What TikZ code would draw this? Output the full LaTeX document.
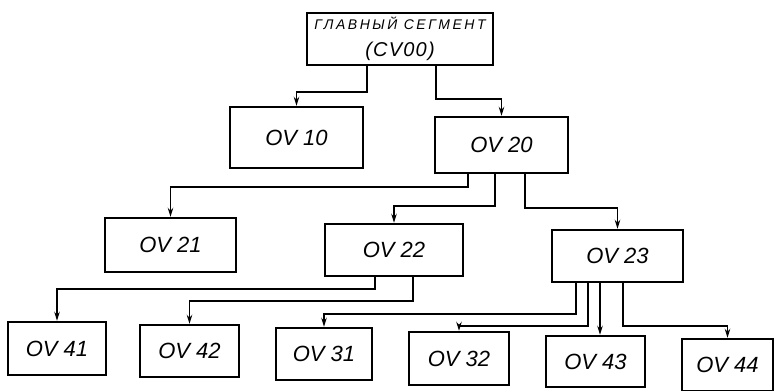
\documentclass[tikz,border=0pt]{standalone}
\usepackage{fontspec}
\setmainfont{Liberation Sans}
\newfontfamily\capsfont[LetterSpace=18]{Liberation Sans}
\newfontfamily\codefont[LetterSpace=6]{Liberation Sans}
\usetikzlibrary{arrows.meta}
\tikzset{
  seg/.style={draw, line width=2.4pt, inner sep=0pt, minimum width=#1},
  seg/.default=100pt,
  link/.style={line width=1.6pt, -{Stealth[length=9pt,width=5.5pt]}},
  lbl/.style={font=\fontsize{22}{24}\selectfont\itshape}
}
\begin{document}
\begin{tikzpicture}[x=1pt,y=-1pt]
\useasboundingbox (0,0) rectangle (780,391);
% main segment
\node[seg=186pt, minimum height=52pt, align=center] (cv00) at (400,39)
  {{\capsfont\fontsize{14}{16}\selectfont\itshape ГЛАВНЫЙ СЕГМЕНТ}\\[11pt]
   {\codefont\fontsize{20}{22}\selectfont\itshape (CV00)}};
% level 1
\node[seg=133pt, minimum height=61pt, lbl] (ov10) at (296.5,137.5) {OV 10};
\node[seg=133pt, minimum height=56pt, lbl] (ov20) at (501.5,145) {OV 20};
% level 2
\node[seg=131pt, minimum height=54pt, lbl] (ov21) at (170.5,245) {OV 21};
\node[seg=138pt, minimum height=52pt, lbl] (ov22) at (394,250) {OV 22};
\node[seg=131pt, minimum height=52pt, lbl] (ov23) at (617.5,256) {OV 23};
% level 3
\node[seg=98pt, minimum height=53pt, lbl] (ov41) at (57,348.5) {OV 41};
\node[seg=99pt, minimum height=52pt, lbl] (ov42) at (189.5,351) {OV 42};
\node[seg=96pt, minimum height=52pt, lbl] (ov31) at (324,354) {OV 31};
\node[seg=100pt, minimum height=53pt, lbl] (ov32) at (459,358.5) {OV 32};
\node[seg=99pt, minimum height=51pt, lbl] (ov43) at (595.5,361.5) {OV 43};
\node[seg=91pt, minimum height=52pt, lbl] (ov44) at (727.5,365) {OV 44};

\draw[link] ([xshift=-33pt]cv00.south) -- ++(0,26) -| (ov10.north);
\draw[link] ([xshift=36pt]cv00.south) -- ++(0,33) -| (ov20.north);

\draw[link] ([xshift=-33.5pt]ov20.south) -- ++(0,13) -| (ov21.north);
\draw[link] ([xshift=-6.5pt]ov20.south) -- ++(0,32) -| (ov22.north);
\draw[link] ([xshift=23.5pt]ov20.south) -- ++(0,34) -| (ov23.north);

\draw[link] ([xshift=-19pt]ov22.south) -- ++(0,12) -| (ov41.north);
\draw[link] ([xshift=19pt]ov22.south) -- ++(0,24) -| (ov42.north);

\draw[link] ([xshift=-41.5pt]ov23.south) -- ++(0,31) -| (ov31.north);
\draw[link] ([xshift=-29.5pt]ov23.south) -- ++(0,43) -| (ov32.north);
\draw[link] ([xshift=-17.5pt]ov23.south) -- ([xshift=-17.5pt]ov23.south |- ov43.north);
\draw[link] ([xshift=5.5pt]ov23.south) -- ++(0,43) -| (ov44.north);
\end{tikzpicture}
\end{document}
